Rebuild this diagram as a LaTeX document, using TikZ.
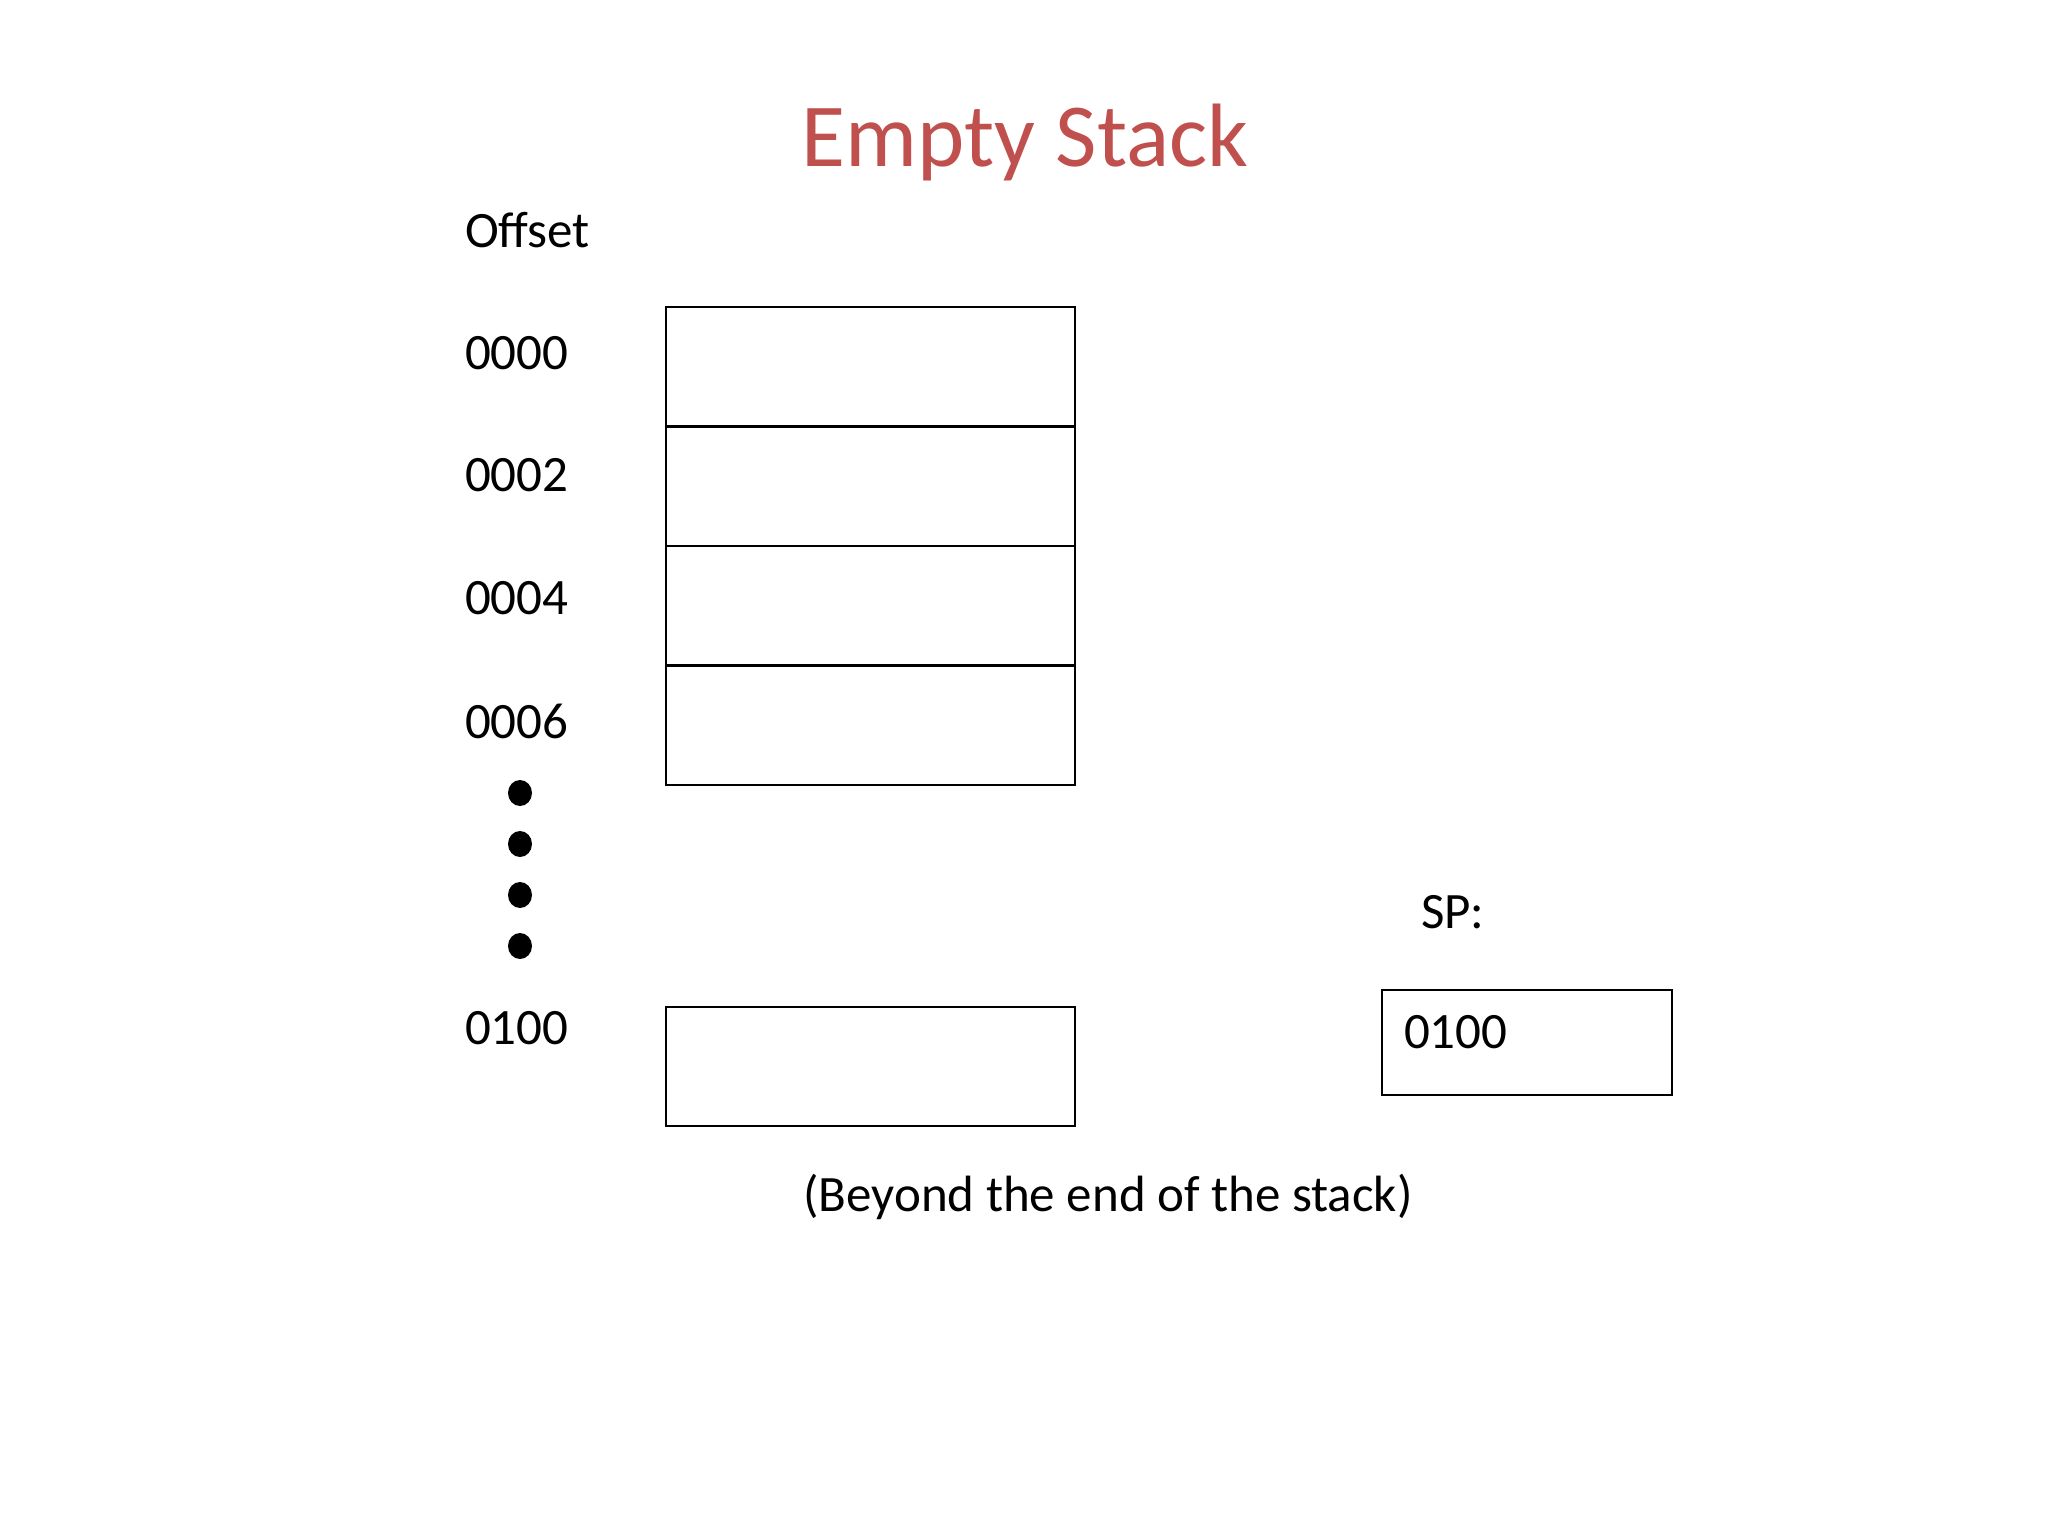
\documentclass[tikz,border=0pt]{standalone}
\usepackage{fontspec}
\setmainfont{Carlito}
\definecolor{titlered}{HTML}{C0504D}
\begin{document}
\begin{tikzpicture}[x=0.01cm,y=-0.01cm,
  lbl/.style={inner sep=0pt, outer sep=0pt, font=\fontsize{14.5}{17}\selectfont, anchor=west},
  cell/.style={draw=black, line width=0.7pt, minimum width=4.09cm, minimum height=1.195cm, inner sep=0pt, outer sep=0pt, anchor=north west},
  titlestyle/.style={inner sep=0pt, text=titlered, font=\fontsize{25.6}{30}\selectfont}]
\useasboundingbox[fill=white] (0,0) rectangle (2048,1536);
\node[titlestyle] (title) at (1025,142) {Empty Stack};
\node[lbl] (offset) at (465,230) {Offset};
\node[lbl] (l0) at (465,353) {0000};
\node[lbl] (l2) at (465,475) {0002};
\node[lbl] (l4) at (465,598) {0004};
\node[lbl] (l6) at (465,721) {0006};
\node[lbl] (l100) at (465,1028) {0100};
\node[cell] (c0) at (666,307) {};
\node[cell] (c2) at (666,426.5) {};
\node[cell] (c4) at (666,546) {};
\node[cell] (c6) at (666,665.5) {};
\node[cell, minimum height=1.19cm] (cb) at (666,1007) {};
\foreach \yy in {793,844,895,946}
  \fill (520,\yy) ellipse [x radius=12, y radius=13];
\node[lbl] (sp) at (1421,912) {SP:};
\node[cell, minimum width=2.9cm, minimum height=1.05cm] (spbox) at (1382,990) {};
\node[lbl] (spval) at (1404,1032) {0100};
\node[lbl, anchor=center] (beyond) at (1108,1197) {(Beyond the end of the stack)};
\end{tikzpicture}
\end{document}
